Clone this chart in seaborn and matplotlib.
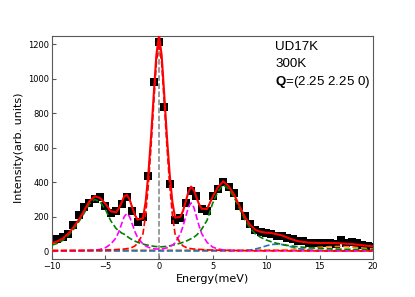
import numpy as np
import pandas as pd
import matplotlib
matplotlib.use("Agg")
import matplotlib.pyplot as plt
import seaborn as sns

# measured points (energy transfer in meV, counts)
energy = [-9.5, -9.0, -8.5, -8.0, -7.5, -7.0, -6.5, -6.0, -5.5, -5.0,
          -4.5, -4.0, -3.5, -3.0, -2.5, -2.0, -1.5, -1.0, -0.5, 0.0,
          0.5, 1.0, 1.5, 2.0, 2.5, 3.0, 3.5, 4.0, 4.5, 5.0,
          5.5, 6.0, 6.5, 7.0, 7.5, 8.0, 8.5, 9.0, 9.5, 10.0,
          10.5, 11.0, 11.5, 12.0, 12.5, 13.0, 13.5, 14.0, 14.5, 15.0,
          15.5, 16.0, 16.5, 17.0, 17.5, 18.0, 18.5, 19.0, 19.5, 20.0]
counts = [68, 79, 99, 149, 207, 253, 280, 300, 315, 261,
          222, 234, 273, 311, 230, 170, 199, 435, 983, 1211,
          838, 387, 180, 193, 280, 350, 319, 242, 234, 321,
          360, 402, 372, 335, 262, 205, 160, 125, 112, 104,
          100, 90, 88, 78, 68, 58, 57, 48, 46, 46,
          48, 47, 42, 62, 45, 50, 47, 35, 30, 26]

# fit components
fit_e = [-10, -9.5, -9, -8.5, -8, -7.5, -7, -6.5, -6, -5.5, -5, -4.5, -4,
         -3.75, -3.5, -3.25, -3, -2.75, -2.5, -2.25, -2,
         -1.5, -1.25, -1, -0.75, -0.5, -0.25,
         0,
         0.25, 0.5, 0.75, 1, 1.25, 1.5,
         2, 2.25, 2.5, 2.75, 3, 3.25, 3.5, 3.75, 4,
         4.5, 5, 5.5, 6, 6.5, 7, 7.5, 8, 8.5, 9, 9.5, 10, 10.5, 11, 11.5, 12, 12.5, 13,
         14, 15, 16, 17, 18, 19, 20]
elastic = [2, 2, 2, 3, 3, 3, 4, 4, 5, 5, 6, 7, 9,
           10, 11, 12, 14, 17, 22, 30, 45,
           100, 210, 380, 600, 850, 1090,
           1210,
           1090, 850, 600, 380, 210, 100,
           45, 30, 22, 17, 14, 12, 11, 10, 9,
           7, 6, 5, 5, 4, 4, 3, 3, 3, 2, 2, 2, 2, 2, 2, 1, 1, 1,
           1, 1, 1, 1, 1, 1, 1]
mode3 = [1, 1, 1, 1, 1, 1, 2, 3, 5, 10, 20, 41, 78,
         113, 157, 200, 218, 200, 157, 113, 78,
         41, 30, 22, 18, 14, 12,
         12,
         13, 15, 19, 26, 34, 48,
         100, 145, 200, 255, 280, 255, 200, 145, 100,
         50, 24, 12, 7, 4, 3, 2, 2, 1, 1, 1, 1, 1, 1, 1, 1, 1, 1,
         1, 1, 1, 1, 1, 1, 1]
mode6 = [35, 45, 62, 88, 125, 170, 220, 275, 300, 285, 240, 175, 130,
         118, 105, 98, 86, 75, 66, 58, 51,
         41, 37, 34, 31, 28, 26,
         25,
         25, 26, 28, 31, 34, 38,
         46, 51, 57, 64, 72, 80, 92, 108, 128,
         180, 275, 345, 385, 360, 315, 250, 185, 135, 100, 80, 65, 54, 45, 39, 33, 29, 25,
         20, 16, 13, 11, 10, 9, 8]
mode11 = [1, 1, 1, 1, 1, 1, 1, 1, 1, 1, 1, 1, 1,
          1, 1, 1, 1, 1, 1, 1, 1,
          1, 1, 1, 1, 1, 1,
          1,
          1, 1, 1, 1, 1, 1,
          1, 1, 1, 1, 1, 1, 1, 1, 1,
          1, 1, 1, 1, 1, 1, 2, 3, 6, 12, 20, 30, 38, 40, 38, 31, 22, 14,
          6, 3, 2, 1, 1, 1, 1]
mode17 = [3, 3, 3, 3, 3, 3, 3, 3, 3, 3, 3, 3, 3,
          3, 3, 3, 3, 3, 3, 3, 3,
          3, 3, 3, 3, 3, 3,
          3,
          3, 3, 3, 3, 3, 3,
          3, 3, 3, 3, 3, 3, 3, 3, 3,
          3, 3, 3, 3, 3, 3, 3, 4, 4, 4, 5, 5, 6, 6, 7, 8, 10, 12,
          17, 22, 26, 27, 24, 18, 12]
bg_e = [-10, 20]
bg_y = [4, 4]

labels = ["UD17K", "300K", r"$\mathbf{Q}$=(2.25 2.25 0)"]

sns.set_style("ticks", {"xtick.direction": "in", "ytick.direction": "in",
                        "axes.edgecolor": "0.35", "text.color": "black",
                        "axes.labelcolor": "black", "xtick.color": "0.35",
                        "ytick.color": "0.35"})
plt.rcParams["font.family"] = ["DejaVu Sans"]
plt.rcParams["mathtext.fontset"] = "custom"
plt.rcParams["mathtext.rm"] = "Liberation Sans"
plt.rcParams["mathtext.bf"] = "Liberation Sans:bold"

data = pd.DataFrame({"E": energy, "I": counts})
fit = pd.DataFrame({"E": fit_e, "elastic": elastic, "mode3": mode3,
                    "mode6": mode6, "mode11": mode11, "mode17": mode17})
fit["bg"] = np.interp(fit["E"], bg_e, bg_y)
fit["total"] = fit[["elastic", "mode3", "mode6", "mode11", "mode17", "bg"]].sum(axis=1)

fig = plt.figure(figsize=(4.15, 2.97), dpi=100)
ax = fig.add_axes([0.1253, 0.1279, 0.7735, 0.7508])

ax.axvline(0, color="gray", linestyle="--", linewidth=1.1, zorder=1)

sns.scatterplot(data=data, x="E", y="I", marker="s", s=26, color="black",
                linewidth=0, ax=ax, zorder=2)

comp_styles = [("bg", "salmon"), ("mode17", "tab:orange"), ("mode11", "tab:blue"),
               ("mode6", "green"), ("mode3", "magenta"), ("elastic", "red")]
for col, colour in comp_styles:
    sns.lineplot(data=fit, x="E", y=col, color=colour, linestyle="--",
                 linewidth=1.2, ax=ax, zorder=3)
sns.lineplot(data=fit, x="E", y="total", color="red", linewidth=1.5,
             ax=ax, zorder=4)

ax.set_xlim(-10, 20)
ax.set_ylim(-46, 1248)
ax.set_xticks([-10, -5, 0, 5, 10, 15, 20])
ax.set_yticks([0, 200, 400, 600, 800, 1000, 1200])
ax.tick_params(labelsize=6, length=3, width=0.8, pad=2, labelcolor="black")
ax.set_xlabel("Energy(meV)", fontsize=8, labelpad=2)
ax.set_ylabel("Intensity(arb. units)", fontsize=8, labelpad=3)

for i, txt in enumerate(labels):
    ax.text(0.695, 0.952 - 0.079 * i, txt, transform=ax.transAxes,
            fontsize=9.6, family="Liberation Sans", va="center", ha="left")

fig.savefig("out.png", dpi=100)
